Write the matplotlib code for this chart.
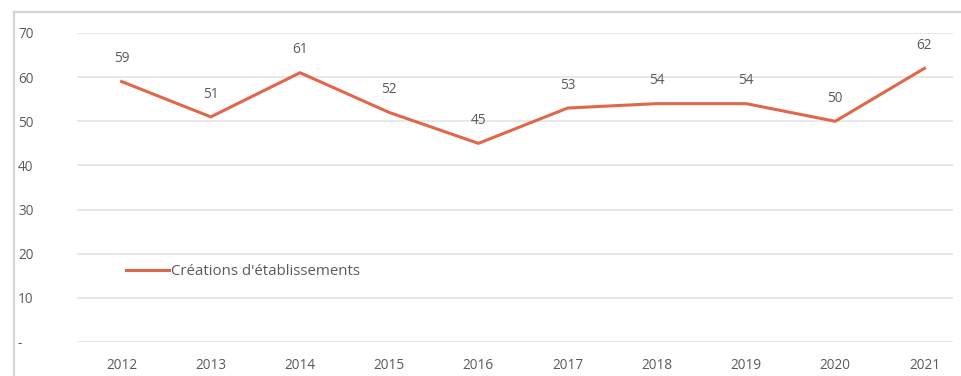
import matplotlib.pyplot as plt
from matplotlib.lines import Line2D

years = ['2012', '2013', '2014', '2015', '2016', '2017', '2018', '2019', '2020', '2021']
creations = [59, 51, 61, 52, 45, 53, 54, 54, 50, 62]
series_name = "Créations d'établissements"
y_ticks = [0, 10, 20, 30, 40, 50, 60, 70]
y_tick_labels = ['-', '10', '20', '30', '40', '50', '60', '70']

LINE_COLOR = '#e0674a'
TEXT_COLOR = '#5a5a5a'
FS = 9.8
plt.rcParams['font.family'] = ['Open Sans', 'DejaVu Sans']

fig = plt.figure(figsize=(9.62, 3.76), dpi=100)
W, H = 962, 376
ax = fig.add_axes([77 / W, 1 - 342 / H, (953 - 77) / W, (342 - 33) / H])

x = list(range(len(years)))
ax.plot(x, creations, color=LINE_COLOR, linewidth=2.2, label=series_name,
        solid_joinstyle='miter', zorder=3)
for xi, v in zip(x, creations):
    ax.annotate(str(v), (xi, v), xytext=(0, 11), textcoords='offset points',
                ha='center', va='bottom', fontsize=FS, color=TEXT_COLOR,
                annotation_clip=False)

ax.set_xlim(-0.5, 9.32)
ax.set_ylim(0, 70)
ax.set_xticks(x)
ax.set_xticklabels(years)
ax.set_yticks(y_ticks)
ax.set_yticklabels(y_tick_labels)
for lbl in ax.get_yticklabels():
    lbl.set_horizontalalignment('left')
ax.tick_params(axis='y', length=0, pad=42.5, labelsize=FS, labelcolor=TEXT_COLOR)
ax.tick_params(axis='x', length=0, pad=11.5, labelsize=FS, labelcolor=TEXT_COLOR)
ax.grid(axis='y', color='#e4e4e4', linewidth=1.2)
ax.set_axisbelow(True)
for s in ax.spines.values():
    s.set_visible(False)

ax.legend(loc='lower left', bbox_to_anchor=(0.04, 0.16), frameon=False,
          fontsize=10.8, labelcolor=TEXT_COLOR, handlelength=2.9, handletextpad=0.1)

# frame edges along the top and left of the chart box
fig.add_artist(Line2D([14 / W, 1], [1 - 12 / H, 1 - 12 / H], color='#d4d4d4', linewidth=1.6))
fig.add_artist(Line2D([14 / W, 14 / W], [0, 1 - 12 / H], color='#d4d4d4', linewidth=1.6))

fig.savefig('out.png', dpi=100)
